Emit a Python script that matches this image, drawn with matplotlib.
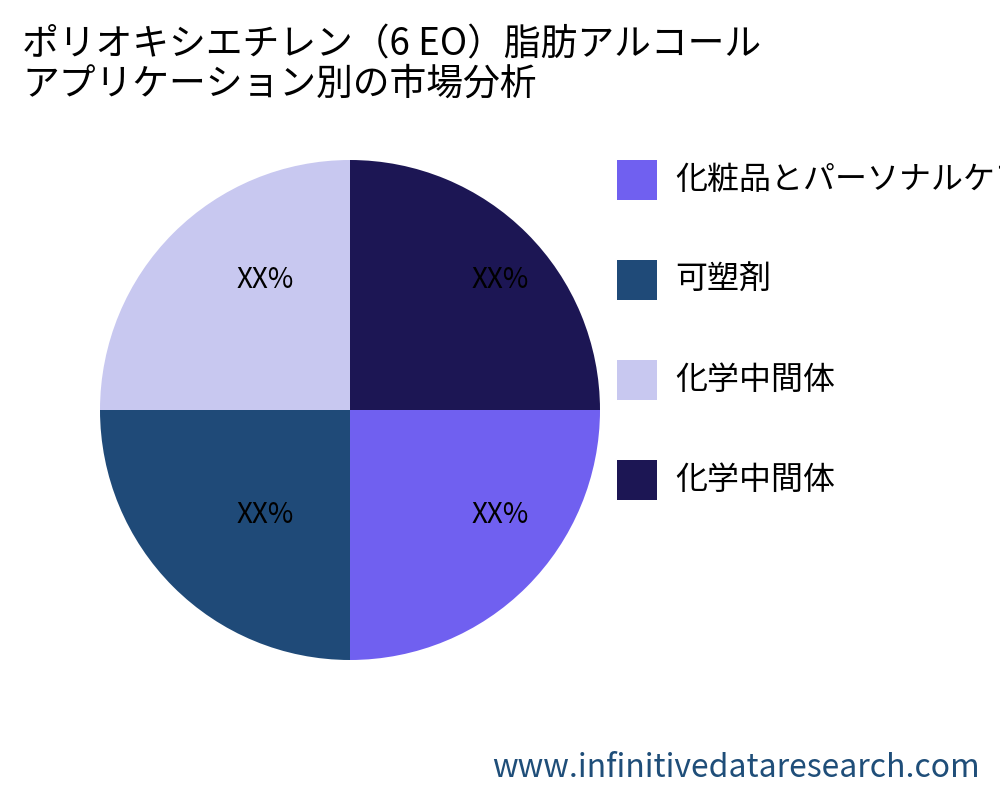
import matplotlib
matplotlib.use("Agg")
import matplotlib.pyplot as plt
from matplotlib.patches import Rectangle

plt.rcParams['font.family'] = ['Noto Sans CJK JP', 'DejaVu Sans']

title = "ポリオキシエチレン（6 EO）脂肪アルコール\nアプリケーション別の市場分析"
categories = ["化粧品とパーソナルケア", "可塑剤", "化学中間体", "化学中間体"]
values = [25, 25, 25, 25]
labels = ["XX%", "XX%", "XX%", "XX%"]
colors = ["#7060f0", "#1f4a78", "#c8c8f0", "#1c1654"]

fig = plt.figure(figsize=(10, 8), dpi=100)
ax = fig.add_axes([0.1, 0.175, 0.5, 0.625])
wedges, _ = ax.pie(values, colors=colors, startangle=0, counterclock=False)
ax.set_xlim(-1, 1)
ax.set_ylim(-1, 1)
ax.set_aspect('equal')
label_pos = [(0.6, -0.42), (-0.34, -0.42), (-0.34, 0.52), (0.6, 0.52)]
for lab, (x, y) in zip(labels, label_pos):
    ax.text(x, y, lab, fontsize=20, ha='center', va='center', color='black')

fig.text(0.022, 0.968, title, fontsize=26.5, va='top', ha='left', linespacing=1.0)

for i, (c, col) in enumerate(zip(categories, colors)):
    yc = 1 - (180 + 100 * i) / 800
    fig.patches.append(Rectangle((0.617, yc - 0.025), 0.04, 0.05, transform=fig.transFigure,
                                 facecolor=col, edgecolor='none'))
    fig.text(0.675, yc, c, fontsize=23, va='center', ha='left')

fig.text(0.98, 0.02, "www.infinitivedataresearch.com", fontsize=23, color="#1f4e79",
         ha='right', va='bottom')
fig.savefig("out.png", dpi=100)
